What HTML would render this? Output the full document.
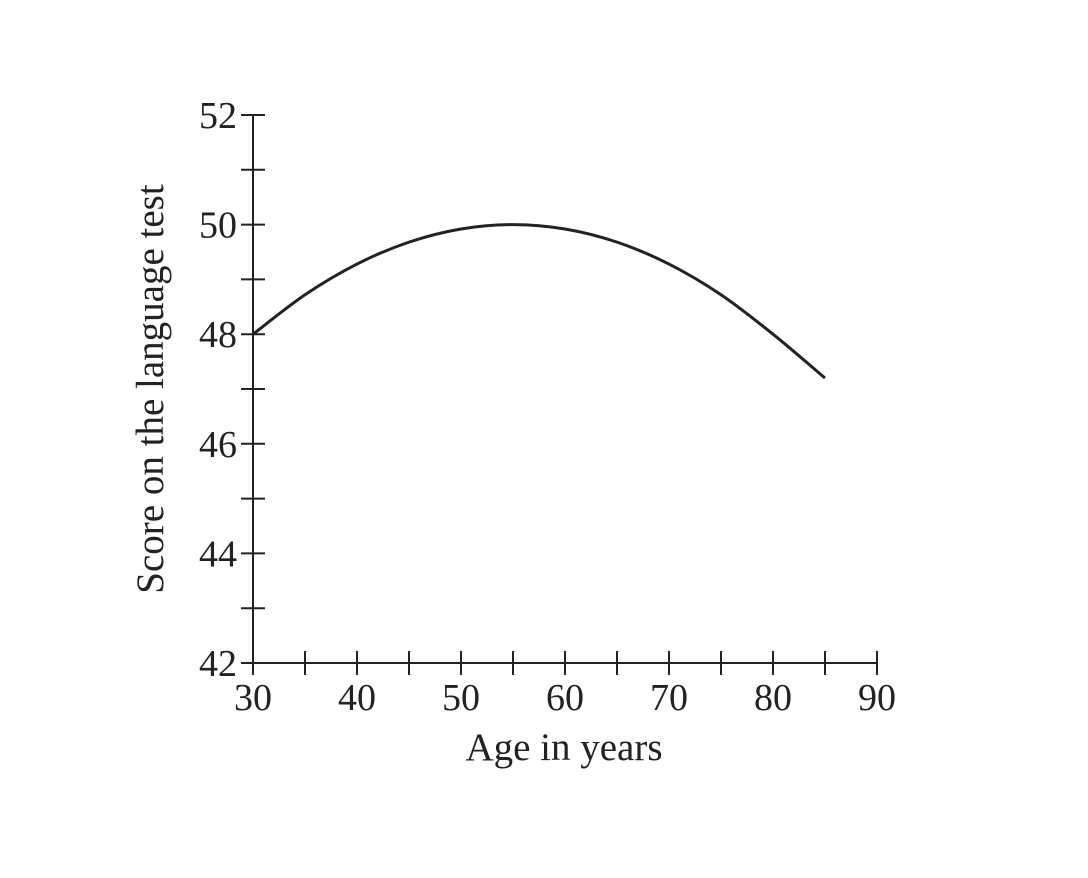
<!DOCTYPE html>
<html><head><meta charset="utf-8"><style>
html,body{margin:0;padding:0;background:#fff;}
svg{display:block;}
text{font-family:"Liberation Serif",serif;fill:#222;}
</style></head><body>
<svg id="chart" width="1088" height="878" viewBox="0 0 1088 878">
<g id="axes"></g>
<path id="curve" fill="none" stroke="#222" stroke-width="3"/>
<text x="564" y="760" font-size="39" text-anchor="middle">Age in years</text>
<text transform="translate(163,389) rotate(-90)" font-size="39" text-anchor="middle">Score on the language test</text>
</svg>
<script>
const ages = [30,35,40,45,50,55,60,65,70,75,80,85];
const scores = [48.0,48.72,49.28,49.68,49.92,50.0,49.92,49.68,49.28,48.72,48.0,47.2];
const xTickLabels = [30,40,50,60,70,80,90];
const yTickLabels = [42,44,46,48,50,52];
const X0=253, XPER=10.4, Y0=663, YPER=54.8;
function sx(a){return X0+(a-30)*XPER;}
function sy(v){return Y0-(v-42)*YPER;}
const NS="http://www.w3.org/2000/svg";
const g=document.getElementById('axes');
function line(x1,y1,x2,y2,name){const l=document.createElementNS(NS,'line');
l.setAttribute('x1',x1);l.setAttribute('y1',y1);l.setAttribute('x2',x2);l.setAttribute('y2',y2);
l.setAttribute('stroke','#222');l.setAttribute('stroke-width','2');


g.appendChild(l);}
function text(x,y,s,anchor,name){const t=document.createElementNS(NS,'text');
t.setAttribute('x',x);t.setAttribute('y',y);t.setAttribute('font-size','38');t.setAttribute('text-anchor',anchor);t.textContent=s;


g.appendChild(t);}
line(sx(30),sy(52),sx(30),sy(42),'y-axis');
line(sx(30),sy(42),sx(90),sy(42),'x-axis');
for(let a=30;a<=90;a+=5){line(sx(a),Y0-12,sx(a),Y0+12,'x-tick');}
for(let v=42;v<=52;v+=1){line(X0-12,sy(v),X0+12,sy(v),'y-tick');}
xTickLabels.forEach(a=>text(sx(a),Y0+47,String(a),'middle','x-tick-label'));
yTickLabels.forEach(v=>text(X0-16,sy(v)+13,String(v),'end','y-tick-label'));
const pts=ages.map((a,i)=>[sx(a),sy(scores[i])]);
let d=`M${pts[0][0]},${pts[0][1]}`;
for(let i=0;i<pts.length-1;i++){const p0=pts[Math.max(0,i-1)],p1=pts[i],p2=pts[i+1],p3=pts[Math.min(pts.length-1,i+2)];
d+=` C${p1[0]+(p2[0]-p0[0])/6},${p1[1]+(p2[1]-p0[1])/6} ${p2[0]-(p3[0]-p1[0])/6},${p2[1]-(p3[1]-p1[1])/6} ${p2[0]},${p2[1]}`;}
document.getElementById('curve').setAttribute('d',d);
</script>
</body></html>
